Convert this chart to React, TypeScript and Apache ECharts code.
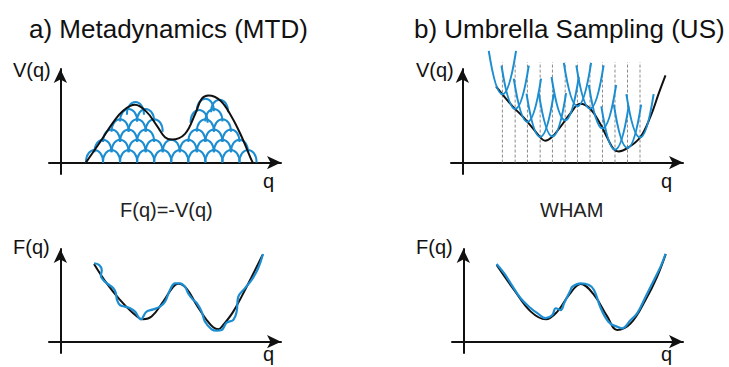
import React, { useEffect, useRef } from "react";
import * as echarts from "echarts";

const BLACK = "#111111";
const BLUE = "#1b8dd0";
const FONT = "'Liberation Sans', Arial, sans-serif";

// ---- a) Metadynamics: accumulated bias V(q) (black) ----
const mtdBias = [
  [1.12, 0], [1.74, 0.89], [2.33, 1.77], [2.77, 2.28], [3.28, 2.53], [3.8, 2.21],
  [4.24, 1.62], [4.6, 1.11], [4.9, 1.01], [5.48, 1.26], [5.93, 2.14], [6.22, 2.8],
  [6.51, 2.94], [7.03, 2.72], [7.54, 1.99], [7.98, 1.11], [8.35, 0.23], [8.46, 0],
];
// deposited hills: [centre q, base height]
const mtdHillsRow0 = [[1.5, 0], [2.25, 0], [3.0, 0], [3.75, 0], [4.5, 0], [5.25, 0], [6.0, 0], [6.75, 0], [7.5, 0], [8.25, 0]];
const mtdHillsRow1 = [[1.875, 0.45], [2.625, 0.45], [3.375, 0.45], [4.125, 0.45], [4.875, 0.45], [5.625, 0.45], [6.375, 0.45], [7.125, 0.45], [7.875, 0.45]];
const mtdHillsRow2 = [[2.25, 0.9], [3.0, 0.9], [3.75, 0.9], [6.0, 0.9], [6.75, 0.9], [7.5, 0.9]];
const mtdHillsRow3 = [[2.625, 1.35], [3.375, 1.35], [4.125, 1.35], [6.375, 1.35], [7.125, 1.35]];
const mtdHillsRow4 = [[3.0, 1.8], [3.75, 1.8], [6.1, 1.75], [6.75, 1.8]];
const mtdHillsRow5 = [[3.3, 2.1], [6.375, 2.25], [7.0, 2.2]];

// ---- b) Umbrella sampling: potential V(q) (black) ----
const usPotential = [
  [1.48, 3.34], [1.8, 2.94], [2.24, 2.43], [2.68, 1.99], [3.12, 1.48], [3.49, 1.04],
  [3.64, 0.96], [3.93, 1.11], [4.3, 1.55], [4.74, 2.14], [5.18, 2.58], [5.62, 2.36],
  [6.06, 1.7], [6.36, 1.11], [6.65, 0.59], [6.87, 0.49], [7.31, 0.67], [7.82, 1.11],
  [8.26, 1.99], [8.63, 3.02], [8.93, 3.82],
];
const usWindows = [1.76, 2.32, 2.86, 3.42, 3.96, 4.52, 5.06, 5.61, 6.16, 6.71, 7.26, 7.81];
const usWindowMin = [2.99, 2.35, 1.78, 1.12, 1.14, 1.85, 2.47, 2.36, 1.5, 0.56, 0.64, 1.1];
const usWindowTop = 4.4;

// ---- bottom: free energy F(q) ----
const mtdFreeRef = [
  [1.48, 3.44], [2.04, 2.58], [2.62, 1.85], [3.2, 1.26], [3.64, 0.99], [4.01, 1.11],
  [4.52, 1.77], [4.96, 2.43], [5.18, 2.56], [5.55, 2.35], [5.99, 1.62], [6.43, 0.96],
  [6.72, 0.64], [6.94, 0.55], [7.16, 0.74], [7.6, 1.33], [8.19, 2.43], [8.89, 3.84],
];
const mtdFreeEst = [
  [1.48, 3.47], [1.71, 3.39], [1.82, 3.17], [1.78, 2.91], [1.92, 2.69], [2.33, 2.36],
  [2.44, 2.14], [2.49, 1.85], [2.62, 1.62], [2.84, 1.55], [3.06, 1.48], [3.28, 1.33],
  [3.47, 1.04], [3.57, 0.99], [3.64, 1.11], [3.79, 1.33], [4.08, 1.43], [4.38, 1.55],
  [4.6, 1.77], [4.82, 2.29], [5.04, 2.58], [5.26, 2.58], [5.48, 2.43], [5.62, 2.14],
  [5.84, 1.85], [6.0, 1.7], [6.21, 1.33], [6.36, 0.88], [6.65, 0.55], [6.87, 0.49],
  [7.09, 0.52], [7.31, 0.84], [7.6, 0.96], [7.75, 1.33], [7.82, 1.98], [8.11, 2.36],
  [8.41, 2.73], [8.7, 3.26], [8.91, 3.88],
];
const whamFreeRef = [
  [1.47, 3.39], [2.24, 2.29], [2.98, 1.33], [3.64, 0.99], [4.15, 1.33], [4.67, 2.07],
  [5.18, 2.55], [5.77, 2.07], [6.36, 1.11], [6.79, 0.52], [7.39, 0.81], [8.05, 1.85],
  [8.56, 2.88], [8.94, 3.88],
];
const whamFreeEst = [
  [1.47, 3.44], [1.8, 3.03], [2.09, 2.58], [2.53, 1.92], [2.98, 1.48], [3.27, 1.26],
  [3.64, 1.04], [3.93, 1.18], [4.08, 1.48], [4.3, 1.4], [4.45, 1.7], [4.74, 2.29],
  [4.81, 2.43], [5.18, 2.58], [5.55, 2.51], [5.77, 2.29], [6.04, 1.55], [6.25, 1.11],
  [6.48, 0.81], [6.8, 0.66], [7.0, 0.59], [7.39, 0.96], [7.68, 1.26], [8.05, 1.99],
  [8.42, 2.73], [8.71, 3.32], [8.93, 3.88],
];

const HILL_W = 0.75;
const HILL_H = 0.55;
const UMB_HALF = 0.6;
const UMB_ARM = 1.9;

export default function App() {
  const ref = useRef<HTMLDivElement>(null);
  useEffect(() => {
    if (!ref.current) return;
    const chart = echarts.init(ref.current, null, { renderer: "svg" });

    const grids = [
      { left: 49, top: 69, width: 232, height: 105 },
      { left: 451, top: 69, width: 232, height: 105 },
      { left: 49, top: 249, width: 232, height: 104 },
      { left: 452, top: 249, width: 231, height: 104 },
    ];
    const axisLine = {
      show: true,
      onZero: true,
      symbol: ["none", "arrow"],
      symbolSize: [10, 14],
      lineStyle: { color: BLACK, width: 2 },
    };
    const xAxes = grids.map((_, i) => ({
      type: "value", gridIndex: i, min: -0.5, max: 9.7,
      axisLine, axisTick: { show: false }, axisLabel: { show: false }, splitLine: { show: false },
    }));
    const yAxes = grids.map((_, i) => ({
      type: "value", gridIndex: i, min: -0.5, max: 4.1,
      axisLine, axisTick: { show: false }, axisLabel: { show: false }, splitLine: { show: false },
    }));

    const hills = [...mtdHillsRow0, ...mtdHillsRow1, ...mtdHillsRow2, ...mtdHillsRow3, ...mtdHillsRow4, ...mtdHillsRow5];
    const umbrellas = usWindows.map((q, i) => [q, usWindowMin[i]]);
    const windowLines = usWindows.map((q) => [q, usWindowTop]);

    const blackLine = (data: number[][], idx: number) => ({
      type: "line", xAxisIndex: idx, yAxisIndex: idx, data, smooth: 0.4, showSymbol: false,
      lineStyle: { color: BLACK, width: 2 }, z: 3, silent: true,
    });
    const blueLine = (data: number[][], idx: number) => ({
      type: "line", xAxisIndex: idx, yAxisIndex: idx, data, smooth: 0.4, showSymbol: false,
      lineStyle: { color: BLUE, width: 2.2 }, z: 4, silent: true,
    });

    const text = (t: string, x: number, y: number, size: number, color = BLACK) => ({
      type: "text", x, y, silent: true,
      style: { text: t, fontSize: size, fontFamily: FONT, fill: color, align: "left", verticalAlign: "middle" },
    });

    chart.setOption({
      animation: false,
      grid: grids,
      xAxis: xAxes,
      yAxis: yAxes,
      series: [
        {
          type: "custom", xAxisIndex: 0, yAxisIndex: 0, data: hills, z: 2, silent: true,
          renderItem: (_p: any, api: any) => {
            const c = api.coord([api.value(0), api.value(1)]);
            const s = api.size([HILL_W, HILL_H]);
            const hw = s[0] / 2;
            const ch = s[1] / 0.75;
            return {
              type: "bezierCurve",
              shape: { x1: c[0] - hw, y1: c[1], x2: c[0] + hw, y2: c[1], cpx1: c[0] - hw, cpy1: c[1] - ch, cpx2: c[0] + hw, cpy2: c[1] - ch },
              style: { stroke: BLUE, fill: "none", lineWidth: 2 },
            };
          },
        },
        blackLine(mtdBias, 0),
        {
          type: "custom", xAxisIndex: 1, yAxisIndex: 1, data: windowLines, z: 1, silent: true,
          renderItem: (_p: any, api: any) => {
            const a = api.coord([api.value(0), 0]);
            const b = api.coord([api.value(0), api.value(1)]);
            return {
              type: "line",
              shape: { x1: a[0], y1: a[1], x2: b[0], y2: b[1] },
              style: { stroke: "#8a8a8a", lineWidth: 1, lineDash: [3, 2] },
            };
          },
        },
        blackLine(usPotential, 1),
        {
          type: "custom", xAxisIndex: 1, yAxisIndex: 1, data: umbrellas, z: 4, silent: true,
          renderItem: (_p: any, api: any) => {
            const q = api.value(0);
            const v = api.value(1);
            const l = api.coord([q - UMB_HALF, v + UMB_ARM]);
            const r = api.coord([q + UMB_HALF, v + UMB_ARM]);
            const cp = api.coord([q, v - UMB_ARM]);
            return {
              type: "bezierCurve",
              shape: { x1: l[0], y1: l[1], x2: r[0], y2: r[1], cpx1: cp[0], cpy1: cp[1] },
              style: { stroke: BLUE, fill: "none", lineWidth: 2 },
            };
          },
        },
        blackLine(mtdFreeRef, 2),
        blueLine(mtdFreeEst, 2),
        blackLine(whamFreeRef, 3),
        blueLine(whamFreeEst, 3),
      ],
      graphic: [
        text("a) Metadynamics (MTD)", 29, 28.5, 26),
        text("b) Umbrella Sampling (US)", 414, 28.5, 26),
        text("V(q)", 13, 70, 20),
        text("V(q)", 416, 70, 20),
        text("q", 263, 181, 20),
        text("q", 661, 181, 20),
        text("F(q)=-V(q)", 120, 210, 20, "#222"),
        text("WHAM", 540, 210, 20, "#222"),
        text("F(q)", 13, 247, 20),
        text("F(q)", 416, 247, 20),
        text("q", 263, 354, 20),
        text("q", 661, 354, 20),
      ],
    });
    return () => chart.dispose();
  }, []);
  return (
    <div
      ref={ref}
      style={{ position: "fixed", left: 0, top: 0, width: 729, height: 367, background: "#fff" }}
    />
  );
}
